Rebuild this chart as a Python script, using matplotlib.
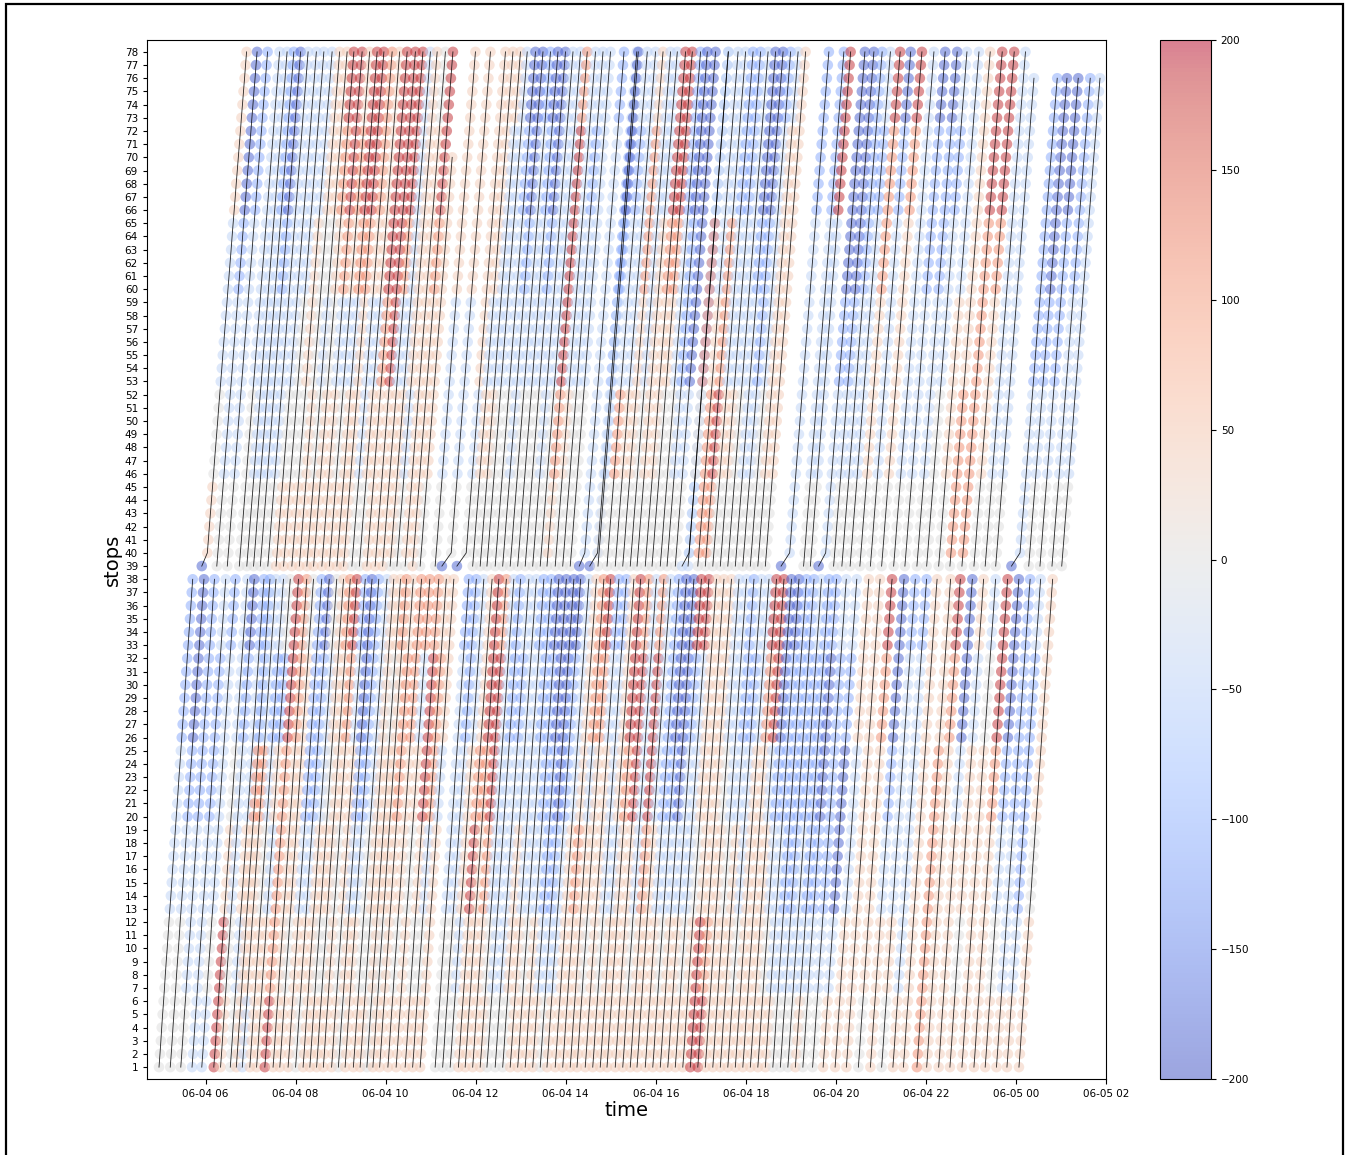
import matplotlib
matplotlib.use('Agg')
import numpy as np
import pandas as pd
import matplotlib.pyplot as plt
import matplotlib.dates as mdates
from matplotlib.patches import Rectangle

# deviation classes
level = {'B': -185, 'b': -110, 'l': -45, 'n': 0, 'p': 40, 'r': 115, 'R': 185}

# stops 1-38: departures at stop 1 and deviation class per stop block
down_blocks = [1, 7, 13, 20, 26, 33, 39]
down_dep = ['04:58', '05:13', '05:27', '05:42', '05:55', '06:11', '06:20', '06:33', '06:41', '06:49',
            '06:59', '07:08', '07:19', '07:30', '07:39', '07:50', '08:00', '08:10', '08:19', '08:28',
            '08:37', '08:48', '08:57', '09:06', '09:17', '09:26', '09:35', '09:43', '09:52', '10:03',
            '10:14', '10:26', '10:36', '10:46', '11:06', '11:16', '11:26', '11:37', '11:46', '11:56',
            '12:06', '12:15', '12:26', '12:36', '12:46', '12:56', '13:06', '13:16', '13:26', '13:35',
            '13:46', '13:56', '14:06', '14:15', '14:26', '14:36', '14:46', '14:55', '15:06', '15:16',
            '15:26', '15:35', '15:46', '15:56', '16:06', '16:16', '16:26', '16:36', '16:46', '16:56',
            '17:06', '17:16', '17:26', '17:36', '17:46', '17:56', '18:06', '18:16', '18:26', '18:36',
            '18:46', '18:56', '19:06', '19:16', '19:29', '19:43', '19:59', '20:14', '20:30', '20:46',
            '21:01', '21:16', '21:30', '21:48', '22:01', '22:17', '22:32', '22:48', '23:04', '23:19',
            '23:34', '23:48', '00:04']
down_dev = ['nnllbb', 'nnlbBB', 'nllbbb', 'lllbbl', 'lnlllb', 'RRpnll', 'pnllbB', 'nlpllb', 'ppprbb', 'lpprll',
            'ppnlbl', 'pplpbn', 'RrrrRR', 'pppprr', 'pnpppn', 'pplbbb', 'nplbbB', 'ppplln', 'pnpnpp', 'pnpppr',
            'ppnprR', 'pnpplb', 'nplbBB', 'pplbbb', 'pnnlll', 'pnpppp', 'npppnp', 'pnpppr', 'ppprrp', 'pnpprr',
            'ppnplr', 'pnpRRr', 'pnlrrp', 'ppplpp', 'nnlllb', 'nnllbb', 'nlppll', 'ppRrpp', 'ppprRR', 'pprRRr',
            'pnllll', 'nlllbb', 'nlllbl', 'npplll', 'pplllb', 'pnllbb', 'pplbbB', 'plbbBB', 'nlbBBB', 'pllbbB',
            'ppplll', 'pprppp', 'ppplrr', 'pnpprR', 'pppplb', 'pnlllb', 'pplppp', 'ppprRR', 'pppRRr', 'pnllll',
            'pprRRr', 'ppplll', 'pplbbb', 'pnlbBB', 'pplBBB', 'ppllbR', 'pnlllR', 'ppnppp', 'RRpppp', 'Rrpppp',
            'pppnll', 'ppnlll', 'ppplbb', 'pnllbl', 'ppppll', 'pppprR', 'ppplRR', 'pnlbBB', 'pllbbB', 'nlbbbb',
            'nlbbbb', 'nllbbl', 'plbbbb', 'nlbBBb', 'nlbbbl', 'plBBbl', 'ppllpp', 'pppppp', 'nppprR', 'pplbBB',
            'nplllb', 'pllllb', 'pppppp', 'rrrrpp', 'pppprR', 'ppplBB', 'pnpplp', 'ppppnl', 'ppprRR', 'pnlbBB',
            'pllbbb', 'plbbbl', 'ppnppp']
# minutes from stop 1 to each of stops 1..38
down_run = [0, 1.3, 2.5, 3.6, 4.8, 6.1, 7.3, 8.4, 9.6, 10.9, 12.1, 13.2, 14.5, 15.8, 17.0, 18.1, 19.4, 20.6, 21.8,
            23.0, 24.3, 25.5, 26.6, 27.9, 29.1, 30.3, 31.5, 32.8, 34.0, 35.1, 36.4, 37.6, 38.8, 40.0, 41.3, 42.5,
            43.6, 44.9]

# stops 39-78
up_blocks = [39, 40, 46, 53, 60, 66, 73, 79]
up_dep = ['05:55', '06:15', '06:29', '06:45', '06:55', '07:04', '07:13', '07:23', '07:34', '07:44',
          '07:55', '08:05', '08:15', '08:24', '08:35', '08:45', '08:55', '09:04', '09:15', '09:25',
          '09:35', '09:46', '09:56', '10:06', '10:15', '10:26', '10:36', '10:46', '11:06', '11:15',
          '11:35', '11:56', '12:06', '12:15', '12:26', '12:36', '12:46', '12:56', '13:06', '13:16',
          '13:26', '13:35', '13:46', '13:56', '14:06', '14:18', '14:32', '14:43', '14:55', '15:06',
          '15:16', '15:26', '15:35', '15:46', '15:55', '16:06', '16:15', '16:26', '16:35', '16:43',
          '16:56', '17:06', '17:16', '17:26', '17:36', '17:46', '17:56', '18:06', '18:16', '18:26',
          '18:47', '19:17', '19:26', '19:37', '19:57', '20:08', '20:19', '20:32', '20:46', '21:01',
          '21:17', '21:32', '21:48', '22:01', '22:17', '22:32', '22:48', '23:04', '23:19', '23:33',
          '23:54', '00:17', '00:32', '00:48', '01:01']
up_dev = ['Bpnllpp', 'nnllbBB', 'nnlllbb', 'nnnllll', 'nnlllll', 'nnlllbb', 'nnllbBB', 'nnlllll', 'ppnllll', 'ppnnlll',
          'ppnppll', 'pppnnpp', 'ppnlnpp', 'pppnprR', 'ppplrRR', 'ppnlprp', 'ppplrRR', 'pppprRR', 'nnllprr', 'nnplppp',
          'ppprRRR', 'pppRRRR', 'ppplrRR', 'nppllll', 'nnlpppp', 'npppppn', 'pppprRR', 'nnppppp', 'nnllppp', 'Bnllppp',
          'Bnlpppp', 'nnplppp', 'nnplllp', 'nnnllll', 'nnnllbB', 'nnllbBB', 'nnnlllb', 'nnnllbB', 'nnnlbBB', 'nnlllll',
          'nnnllll', 'nprRRRr', 'nnpllll', 'nnnllbl', 'nnnllll', 'Blllllb', 'Bllbbbl', 'nnllbBB', 'nnrllbl', 'nnpllll',
          'nnpprrp', 'nnnllll', 'nnpppll', 'nnpprRR', 'nnnprRR', 'nnnllbb', 'nnlbbBB', 'nnlBBBB', 'lllbbll', 'llnrrll',
          'nrrplll', 'nrRrrll', 'nnpllbb', 'nnpllbb', 'nnnllll', 'nnllbBB', 'nnlbbBB', 'nnnlllb', 'nnppppl', 'nnppppp',
          'Bllllbb', 'nnlllbb', 'nnlllRR', 'BllbBBB', 'nnlbBBB', 'nnllbbb', 'nnlllbl', 'nnpprrR', 'nnlllbB', 'nnppprR',
          'nnlllll', 'nnllbbB', 'nnllbbB', 'nnnllbl', 'nnpplll', 'nrrpppp', 'nrrrrRR', 'nnpprRR', 'nnlllll', 'nnlllll',
          'Bllbbbb', 'nnlbBBB', 'nnlbbBB', 'nnllbbb', 'nnlllll']
# minutes from stop 39 to each of stops 39..78
up_run = [0, 1.4, 2.8, 4.1, 5.5, 6.9, 8.3, 9.7, 11.0, 12.4, 13.8, 15.2, 16.5, 17.9, 19.3, 20.7, 22.0, 23.4, 24.8,
          26.2, 27.6, 28.9, 30.3, 31.7, 33.1, 34.4, 35.8, 37.2, 38.6, 39.9, 41.3, 42.7, 44.1, 45.5, 46.8, 48.2,
          49.6, 51.0, 52.3, 53.7]
# vehicles that sat at stop 39 before leaving (minutes)
up_wait = {'05:55': 6, '11:15': 11, '11:35': 11, '14:18': 6, '14:32': 9, '16:35': 8,
           '18:47': 10, '19:37': 8, '23:54': 10}
# trips that did not run to stop 78
up_last = {'10:46': 70, '23:33': 76, '23:54': 76, '00:17': 76, '00:32': 76, '00:48': 76, '01:01': 76}


def to_time(hhmm):
    t = pd.Timestamp('2019-06-04 ' + hhmm)
    if t.hour < 4:
        t = t + pd.Timedelta(days=1)
    return t


fig = plt.figure(figsize=(13.45, 11.55), dpi=100)
ax = fig.add_axes([147 / 1345, 1 - 1079 / 1155, 959 / 1345, 1039 / 1155])
cax = fig.add_axes([1160 / 1345, 1 - 1079 / 1155, 51 / 1345, 1039 / 1155])

xs, ys, cs, paths = [], [], [], []
for dep, dev in zip(down_dep, down_dev):
    t0 = to_time(dep)
    stops = np.arange(1, 39)
    times = [t0 + pd.Timedelta(minutes=m) for m in down_run]
    vals = [level[dev[np.searchsorted(down_blocks, s, side='right') - 1]] for s in stops]
    xs += times; ys += list(stops); cs += vals
    paths.append((times, stops))

for dep, dev in zip(up_dep, up_dev):
    t0 = to_time(dep)
    last = up_last.get(dep, 78)
    wait = up_wait.get(dep, 0)
    stops = np.arange(39, last + 1)
    times = []
    for i, s in enumerate(stops):
        extra = wait if i > 0 else 0
        times.append(t0 + pd.Timedelta(minutes=up_run[i] + extra))
    vals = [level[dev[np.searchsorted(up_blocks, s, side='right') - 1]] for s in stops]
    xs += times; ys += list(stops); cs += vals
    paths.append((times, stops))

sc = ax.scatter(xs, ys, c=cs, cmap='coolwarm', vmin=-200, vmax=200, alpha=0.5, s=58, edgecolors='none')
for times, stops in paths:
    ax.plot(times, stops, color='black', lw=0.6, alpha=0.85)

ax.set_xlim(to_time('04:42'), to_time('02:00'))
ax.set_ylim(0.1, 78.9)
ax.set_yticks(range(1, 79))
ax.tick_params(axis='y', labelsize=7.5, length=3)
ax.tick_params(axis='x', labelsize=7.5)
ax.xaxis.set_major_locator(mdates.HourLocator(byhour=range(0, 24, 2)))
ax.xaxis.set_major_formatter(mdates.DateFormatter('%m-%d %H'))
ax.set_xlabel('time', fontsize=14, labelpad=2)
ax.set_ylabel('stops', fontsize=14, labelpad=2)

cb = fig.colorbar(sc, cax=cax)
cb.set_ticks(range(-200, 201, 50))
cb.ax.tick_params(labelsize=7.5)

fig.patches.append(Rectangle((6 / 1345, -0.02), 1337 / 1345, 1.02 - 4 / 1155, transform=fig.transFigure,
                             fill=False, edgecolor='black', lw=1.6))

fig.savefig('out.png', dpi=100)
